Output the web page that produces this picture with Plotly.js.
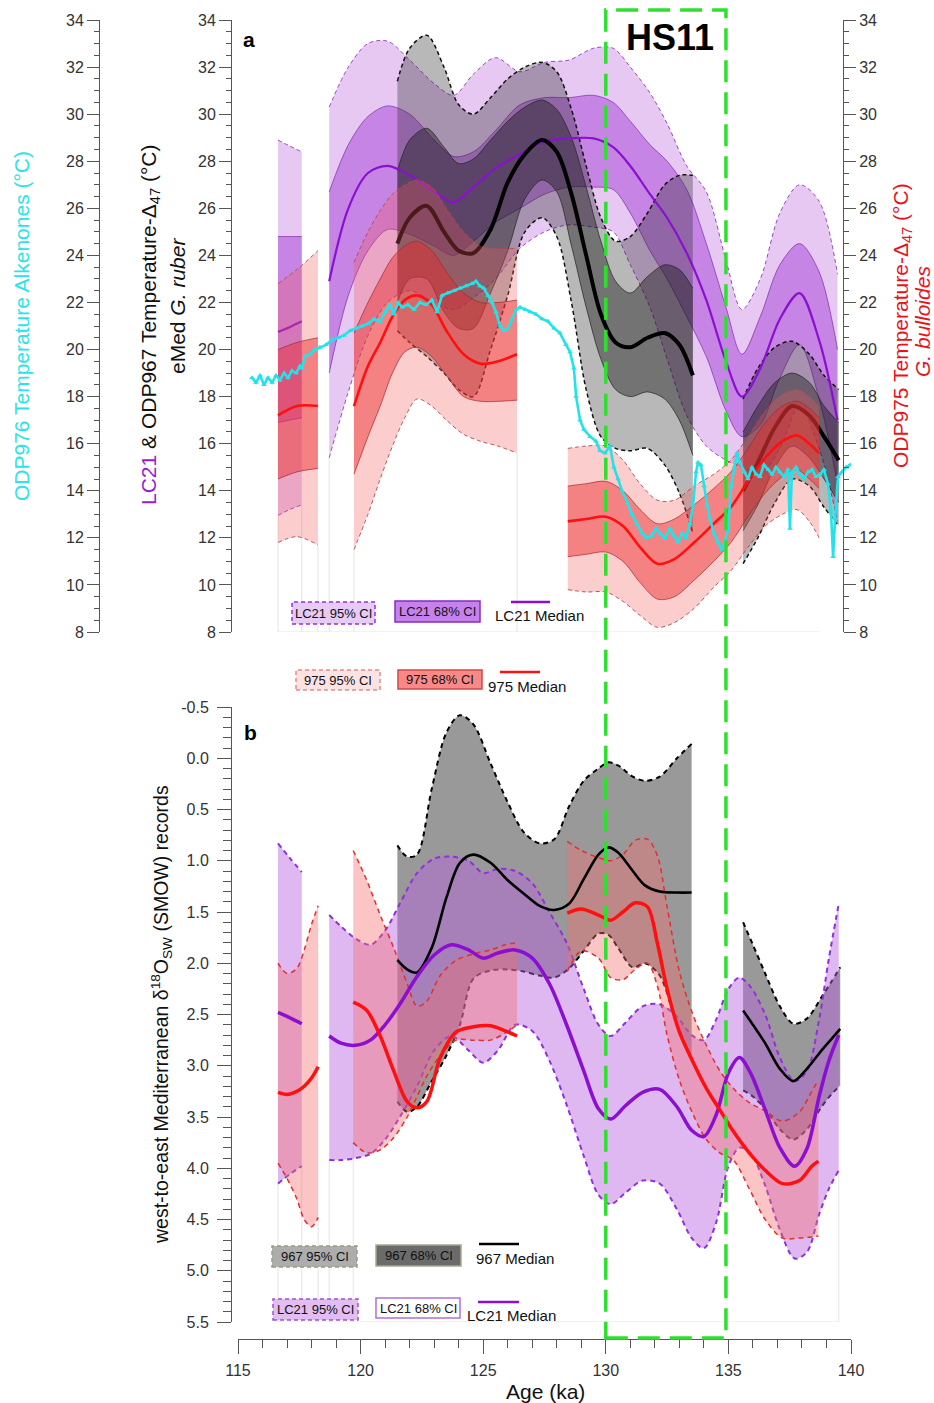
<!DOCTYPE html>
<html><head><meta charset="utf-8">
<script src="https://cdn.plot.ly/plotly-3.0.1.min.js"></script>
<style>html,body{margin:0;padding:0;background:#fff;}#chart{width:934px;height:1403px;}</style>
</head><body><div id="chart"></div>
<script>
// ================= PANEL a : temperature (°C) =================
// LC21 (eMed G. ruber) – segment A
const lcA_age = [116.63, 117.1, 117.6];
const lcA_med = [20.75, 20.95, 21.2];
const lcA_u68 = [24.8, 24.8, 24.8];
const lcA_l68 = [16.9, 17.0, 17.1];
const lcA_u95 = [28.9, 28.65, 28.4];
const lcA_l95 = [12.95, 13.2, 13.4];
// LC21 – segment B
const lcB_age = [118.72,119.5,120.3,121.1,122.0,123.0,123.8,124.6,125.5,126.5,127.5,128.5,129.5,130.3,131.0,131.8,132.5,133.3,134.1,134.9,135.55,136.3,137.1,137.9,138.7,139.45];
const lcB_med = [22.9,26.0,27.5,27.8,27.4,26.7,26.25,26.9,27.7,28.3,28.85,28.97,28.97,28.6,27.8,26.6,25.6,24.1,22.1,19.5,18.0,19.2,21.3,22.4,20.4,17.0];
const lcB_u68 = [26.7,28.7,29.9,30.35,30.0,28.9,28.2,28.4,29.3,30.4,30.7,30.7,30.8,30.5,29.7,28.7,28.0,26.8,24.5,21.8,19.8,21.4,23.6,24.5,23.3,20.0];
const lcB_l68 = [19.0,22.3,24.2,25.1,24.9,24.4,24.0,24.6,25.4,26.0,26.6,26.9,26.9,26.8,25.8,24.2,23.0,21.4,19.7,17.4,16.3,16.8,18.8,20.2,17.9,14.3];
const lcB_u95 = [30.3,32.0,33.0,33.1,32.3,31.3,30.8,31.7,32.4,31.8,32.2,32.3,32.8,32.8,32.0,30.9,29.6,27.8,26.7,23.8,21.7,23.0,25.8,27.0,26.3,23.2];
const lcB_l95 = [15.4,18.2,20.6,22.0,22.5,22.0,21.7,22.2,23.0,24.3,25.0,25.3,25.2,25.0,23.6,21.8,19.6,17.2,15.9,15.3,15.0,14.7,15.8,17.6,15.8,12.7];

// ODP967 – segment 1
const g1_age = [121.5,122.0,122.7,123.4,124.0,124.6,125.3,126.0,126.7,127.4,128.0,128.6,129.2,129.8,130.4,131.0,131.7,132.4,133.0,133.55];
const g1_med = [24.5,25.6,26.1,25.0,24.2,24.1,25.1,27.1,28.3,28.9,28.4,26.6,24.0,21.5,20.3,20.1,20.5,20.7,20.2,18.9];
const g1_u95 = [31.4,32.8,33.35,32.0,30.4,30.0,30.7,31.5,32.0,32.2,31.8,30.2,27.8,25.6,24.6,24.8,25.8,27.0,27.4,27.4];
const g1_l95 = [20.8,20.3,19.7,19.0,18.3,18.0,20.0,22.3,25.0,25.6,24.8,22.0,18.3,16.3,15.8,15.7,15.8,15.1,13.9,12.2];
const g1_u68 = [27.6,28.9,29.4,28.6,27.9,28.1,28.9,29.7,30.3,30.6,30.2,29.0,26.9,24.6,22.9,22.4,23.1,23.6,23.4,22.6];
const g1_l68 = [22.0,23.0,23.0,21.6,20.9,20.9,22.4,24.2,26.4,27.2,26.7,24.4,21.8,19.6,18.3,18.0,18.2,17.9,17.0,15.5];
// ODP967 – segment 2
const g2_age = [135.6,136.2,136.9,137.6,138.3,138.9,139.5];
const g2_med = [14.0,15.2,16.7,17.6,17.2,16.3,15.3];
const g2_u95 = [17.9,19.2,20.1,20.35,19.8,18.9,18.3];
const g2_l95 = [10.9,12.0,13.5,14.5,14.2,13.3,12.5];
const g2_u68 = [16.5,17.6,18.6,19.0,18.6,17.6,16.9];
const g2_l68 = [12.3,13.4,15.0,15.9,15.4,14.5,13.5];

// ODP975 (G. bulloides) – three segments
const r1_age = [116.63,117.4,118.26];
const r1_med = [17.2,17.6,17.6];
const r1_u68 = [20.0,20.3,20.5];
const r1_l68 = [14.5,14.8,14.95];
const r1_u95 = [22.8,23.4,24.2];
const r1_l95 = [11.8,12.05,11.7];
const r2_age = [119.73,120.3,120.8,121.3,121.8,122.3,122.9,123.5,124.2,124.9,125.6,126.38];
const r2_med = [17.6,19.3,20.3,21.4,22.1,22.3,21.9,20.8,19.8,19.4,19.5,19.8];
const r2_u68 = [20.7,22.0,23.0,23.9,24.4,24.6,24.2,23.3,22.4,22.0,22.0,22.1];
const r2_l68 = [14.7,16.3,17.6,19.0,19.9,20.1,19.7,18.9,18.0,17.8,17.8,17.85];
const r2_u95 = [23.7,25.0,25.9,26.6,27.0,27.2,26.9,26.0,25.0,24.4,24.3,24.3];
const r2_l95 = [11.5,13.0,14.5,15.9,17.1,17.9,17.6,17.0,16.4,16.1,15.9,15.6];
const r3_age = [128.45,129.2,130.0,130.7,131.4,132.1,132.8,133.6,134.4,135.1,135.8,136.5,137.2,137.8,138.3,138.7];
const r3_med = [12.7,12.8,12.9,12.5,11.6,10.9,11.1,11.8,12.6,13.3,14.4,15.4,16.1,16.35,16.0,15.6];
const r3_u68 = [14.2,14.3,14.4,14.0,13.2,12.6,12.8,13.4,14.1,14.8,15.8,16.9,17.6,17.8,17.5,17.1];
const r3_l68 = [11.2,11.3,11.4,11.0,10.1,9.4,9.5,10.2,11.0,11.8,12.9,13.9,14.6,14.9,14.5,14.1];
const r3_u95 = [15.8,15.9,15.9,15.3,14.3,13.6,13.6,14.2,14.7,15.3,16.3,17.4,18.1,18.3,18.0,17.6];
const r3_l95 = [9.8,9.7,9.7,9.3,8.7,8.2,8.4,9.0,9.9,10.6,11.6,12.5,13.0,13.2,12.7,12.0];

// ODP976 alkenone temperature
const cy_age = [115.57,115.73,115.90,116.06,116.22,116.39,116.55,116.71,116.88,117.04,117.20,117.37,117.53,117.61,117.73,117.94,118.14,118.34,118.59,118.83,119.08,119.32,119.57,119.81,120.06,120.30,120.55,120.79,121.00,121.20,121.36,121.53,121.69,121.93,122.18,122.42,122.67,122.91,123.12,123.32,123.56,123.81,124.05,124.30,124.54,124.71,124.87,125.03,125.20,125.36,125.52,125.69,125.85,126.01,126.18,126.34,126.50,126.71,126.91,127.15,127.40,127.64,127.89,128.13,128.38,128.54,128.70,128.79,128.95,129.11,129.36,129.60,129.76,129.97,130.17,130.33,130.50,130.66,130.87,131.07,131.27,131.48,131.68,131.88,132.05,132.21,132.41,132.62,132.78,132.95,133.11,133.27,133.43,133.56,133.68,133.76,133.88,134.01,134.13,134.25,134.41,134.58,134.74,134.86,134.98,135.11,135.23,135.35,135.47,135.64,135.80,135.96,136.13,136.29,136.45,136.62,136.78,136.94,137.10,137.27,137.43,137.51,137.59,137.76,137.92,138.08,138.25,138.41,138.57,138.74,138.90,139.06,139.18,139.27,139.35,139.47,139.63,139.80,139.96];
const cy_T = [18.8,18.6,18.9,18.5,18.8,18.6,18.9,18.7,19.0,18.8,19.1,19.0,19.3,19.2,19.7,19.8,20.0,20.1,20.2,20.4,20.5,20.6,20.8,20.9,21.0,21.1,21.3,21.2,21.6,21.9,21.5,22.0,21.8,21.9,21.7,22.0,21.9,22.1,21.6,22.3,22.4,22.5,22.6,22.7,22.8,22.9,22.7,22.6,22.3,22.0,21.6,21.0,20.8,20.9,21.3,21.7,21.8,21.7,21.6,21.5,21.3,21.2,20.9,20.7,20.2,19.9,19.2,18.0,17.0,16.6,16.3,16.1,15.7,15.6,15.9,15.0,14.5,14.0,13.5,13.0,12.6,12.2,12.0,12.1,12.4,12.2,12.0,12.4,12.1,11.8,12.2,12.0,12.6,13.4,14.8,15.2,15.1,14.2,13.4,12.8,12.2,11.8,11.5,11.9,12.3,14.2,15.0,15.6,15.2,14.8,14.5,15.0,14.7,14.6,15.1,14.9,14.7,15.0,14.8,14.6,14.9,12.4,14.8,15.0,14.7,14.5,14.8,14.9,14.6,14.7,14.9,14.3,13.2,11.2,12.8,14.6,14.8,15.0,15.1];

// ================= PANEL b : d18O seawater (‰ SMOW) =================
const lbA_age = [116.63,117.1,117.6];
const lbA_med = [2.48,2.53,2.59];
const lbA_top = [0.83,0.97,1.11];
const lbA_bot = [4.15,4.06,3.98];
const lbB_age = [118.72,119.2,119.8,120.4,121.0,121.6,122.3,123.0,123.7,124.4,125.0,125.6,126.3,127.0,127.7,128.4,129.1,129.7,130.2,130.8,131.5,132.2,132.9,133.5,134.0,134.5,135.0,135.45,135.9,136.5,137.1,137.7,138.2,138.7,139.1,139.5];
const lbB_med = [2.71,2.78,2.80,2.75,2.6,2.4,2.13,1.92,1.82,1.87,1.95,1.9,1.87,1.95,2.2,2.6,3.05,3.42,3.52,3.39,3.26,3.23,3.4,3.63,3.69,3.48,3.07,2.92,3.07,3.43,3.8,3.98,3.81,3.3,2.95,2.7];
const lbB_top = [1.53,1.64,1.76,1.82,1.68,1.42,1.12,0.98,0.96,1.0,1.12,1.08,1.1,1.22,1.5,1.8,2.25,2.6,2.71,2.58,2.42,2.4,2.52,2.7,2.75,2.55,2.25,2.14,2.23,2.5,2.92,3.15,3.05,2.55,1.95,1.42];
const lbB_bot = [3.92,3.92,3.9,3.86,3.72,3.5,3.2,2.85,2.71,2.85,2.97,2.85,2.6,2.66,2.95,3.38,3.88,4.26,4.35,4.24,4.12,4.15,4.4,4.68,4.78,4.53,3.98,3.8,3.85,4.17,4.6,4.88,4.82,4.45,4.2,4.02];

const rb1_age = [116.63,117.0,117.4,117.7,118.0,118.27];
const rb1_med = [3.26,3.28,3.25,3.2,3.12,3.01];
const rb1_top = [2.0,2.1,2.05,1.87,1.62,1.44];
const rb1_bot = [3.95,4.1,4.3,4.5,4.57,4.48];
const rb2_age = [119.7,120.25,120.8,121.35,121.9,122.3,122.7,123.25,123.9,124.6,125.3,125.9,126.38];
const rb2_med = [2.38,2.46,2.71,3.05,3.35,3.41,3.35,2.92,2.67,2.62,2.61,2.66,2.71];
const rb2_top = [0.9,1.19,1.53,1.85,2.2,2.42,2.37,2.12,1.97,1.91,1.87,1.82,1.8];
const rb2_bot = [3.75,3.85,3.82,3.7,3.5,3.3,3.1,2.9,2.75,2.75,2.75,2.68,2.6];
const rb3_age = [128.43,129.0,129.7,130.2,130.7,131.2,131.7,132.1,132.5,133.0,133.55,134.1,134.65,135.2,135.85,136.5,137.2,137.9,138.4,138.67];
const rb3_med = [1.51,1.47,1.53,1.58,1.5,1.41,1.45,1.8,2.25,2.67,2.96,3.22,3.43,3.64,3.85,4.02,4.15,4.12,3.98,3.93];
const rb3_top = [0.81,0.9,0.97,1.0,0.94,0.8,0.79,0.95,1.45,2.08,2.5,2.8,3.05,3.22,3.36,3.44,3.54,3.45,3.25,3.14];
const rb3_bot = [2.08,1.88,1.95,2.14,2.16,2.06,2.0,2.22,2.7,3.14,3.47,3.72,3.85,3.92,4.2,4.5,4.68,4.68,4.67,4.66];

const gb1_age = [121.5,121.9,122.3,122.9,123.5,124.05,124.6,125.3,126.0,126.65,127.3,127.9,128.5,129.1,129.7,130.1,130.5,131.1,131.6,132.2,132.9,133.5];
const gb1_med = [1.97,2.06,2.09,1.85,1.36,1.02,0.94,1.02,1.19,1.32,1.44,1.48,1.42,1.18,0.94,0.87,0.92,1.1,1.24,1.3,1.31,1.31];
const gb1_top = [0.85,0.96,0.94,0.3,-0.25,-0.42,-0.33,0.05,0.43,0.72,0.83,0.79,0.47,0.22,0.1,0.04,0.07,0.18,0.22,0.18,0.0,-0.14];
const gb1_bot = [3.35,3.45,3.4,3.15,2.9,2.6,2.15,2.07,2.06,2.08,2.12,2.14,2.05,1.88,1.71,1.72,1.85,2.04,2.0,2.12,2.6,2.92];
const gb2_age = [135.6,136.0,136.5,137.1,137.65,138.2,138.8,139.2,139.56];
const gb2_med = [2.46,2.6,2.78,3.03,3.15,3.03,2.85,2.74,2.64];
const gb2_top = [1.6,1.82,2.1,2.42,2.59,2.54,2.33,2.18,2.04];
const gb2_bot = [3.24,3.3,3.42,3.62,3.72,3.62,3.4,3.28,3.19];

// tick labels
const bTickVals = [-0.5,0,0.5,1,1.5,2,2.5,3,3.5,4,4.5,5,5.5];
const bTickText = ['-0.5','0.0','0.5','1.0','1.5','2.0','2.5','3.0','3.5','4.0','4.5','5.0','5.5'];
const ageTickVals = [115,120,125,130,135,140];

// ================= drawing =================
const W = 934, H = 1403;
const px = x => x / W;
const py = y => 1 - y / H;
const FONT = 'Arial, "Liberation Sans", sans-serif';

function line(xs, ys, ya, color, width, dash) {
  return {type:'scatter', mode:'lines', x:xs, y:ys, xaxis:'x', yaxis:ya, hoverinfo:'skip', showlegend:false,
          line:{color:color, width:width, dash:dash||'solid', shape:'spline', smoothing:0.9}};
}
function band(xs, lo, hi, ya, fillcolor, lc, lw, dash) {
  const a = line(xs, lo, ya, lc, lw, dash);
  const b = line(xs, hi, ya, lc, lw, dash);
  b.fill = 'tonexty'; b.fillcolor = fillcolor;
  return [a, b];
}

const P95 = 'rgba(172,72,215,0.30)', P68 = 'rgba(160,50,210,0.45)';
const G95 = 'rgba(40,40,40,0.33)', G68 = 'rgba(20,20,20,0.42)';
const R95 = 'rgba(245,90,90,0.30)', R68 = 'rgba(235,40,40,0.45)';
const D95 = '4px,3px';

let traces = [];
// panel a – LC21 + 967 on y
traces.push(...band(lcA_age, lcA_l95, lcA_u95, 'y', P95, '#8E35C0', 0.9, D95));
traces.push(...band(lcB_age, lcB_l95, lcB_u95, 'y', P95, '#8E35C0', 0.9, D95));
traces.push(...band(lcA_age, lcA_l68, lcA_u68, 'y', P68, '#7B2AA8', 0.7));
traces.push(...band(lcB_age, lcB_l68, lcB_u68, 'y', P68, '#7B2AA8', 0.7));
traces.push(...band(g1_age, g1_l95, g1_u95, 'y', G95, '#111', 1.5, D95));
traces.push(...band(g2_age, g2_l95, g2_u95, 'y', G95, '#111', 1.5, D95));
traces.push(...band(g1_age, g1_l68, g1_u68, 'y', G68, '#222', 0.7));
traces.push(...band(g2_age, g2_l68, g2_u68, 'y', G68, '#222', 0.7));
traces.push(line(lcA_age, lcA_med, 'y', '#8A0FD0', 2.2));
traces.push(line(lcB_age, lcB_med, 'y', '#8A0FD0', 2.2));
traces.push(line(g1_age, g1_med, 'y', '#000', 4));
traces.push(line(g2_age, g2_med, 'y', '#000', 4));
// panel a – ODP975 on y2 (right axis)
traces.push(...band(r1_age, r1_l95, r1_u95, 'y2', R95, '#B04848', 0.9, D95));
traces.push(...band(r2_age, r2_l95, r2_u95, 'y2', R95, '#B04848', 0.9, D95));
traces.push(...band(r3_age, r3_l95, r3_u95, 'y2', R95, '#B04848', 0.9, D95));
traces.push(...band(r1_age, r1_l68, r1_u68, 'y2', R68, '#A02828', 0.7));
traces.push(...band(r2_age, r2_l68, r2_u68, 'y2', R68, '#A02828', 0.7));
traces.push(...band(r3_age, r3_l68, r3_u68, 'y2', R68, '#A02828', 0.7));
traces.push(line(r1_age, r1_med, 'y2', '#FF1010', 2.6));
traces.push(line(r2_age, r2_med, 'y2', '#FF1010', 2.6));
traces.push(line(r3_age, r3_med, 'y2', '#FF1010', 2.6));
// panel a – ODP976 alkenones on y3 (outer left axis)
traces.push({type:'scatter', mode:'lines+markers', x:cy_age, y:cy_T, xaxis:'x', yaxis:'y3', hoverinfo:'skip', showlegend:false,
  line:{color:'#22E3EA', width:2.6}, marker:{symbol:'triangle-up', size:5, color:'#22E3EA'}});

// panel b on y4
const LB = 'rgba(185,95,225,0.45)', GB = 'rgba(90,90,90,0.62)', RB = 'rgba(245,110,110,0.40)';
traces.push(...band(gb1_age, gb1_bot, gb1_top, 'y4', GB, '#000', 2, '5px,4px'));
traces.push(...band(gb2_age, gb2_bot, gb2_top, 'y4', GB, '#000', 2, '5px,4px'));
traces.push(...band(lbA_age, lbA_bot, lbA_top, 'y4', LB, '#9030D8', 2, '5px,4px'));
traces.push(...band(lbB_age, lbB_bot, lbB_top, 'y4', LB, '#9030D8', 2, '5px,4px'));
traces.push(...band(rb1_age, rb1_bot, rb1_top, 'y4', RB, '#E03030', 1.5, '5px,4px'));
traces.push(...band(rb2_age, rb2_bot, rb2_top, 'y4', RB, '#E03030', 1.5, '5px,4px'));
traces.push(...band(rb3_age, rb3_bot, rb3_top, 'y4', RB, '#E03030', 1.5, '5px,4px'));
traces.push(line(gb1_age, gb1_med, 'y4', '#000', 2.6));
traces.push(line(gb2_age, gb2_med, 'y4', '#000', 2.6));
traces.push(line(lbA_age, lbA_med, 'y4', '#8A0FD0', 3.5));
traces.push(line(lbB_age, lbB_med, 'y4', '#8A0FD0', 3.5));
traces.push(line(rb1_age, rb1_med, 'y4', '#FF1010', 3.5));
traces.push(line(rb2_age, rb2_med, 'y4', '#FF1010', 3.5));
traces.push(line(rb3_age, rb3_med, 'y4', '#FF1010', 3.5));

const AX = '#555', TK = {size:16, color:'#333', family:FONT};
function yAx(extra) {
  return Object.assign({range:[8,34], dtick:2, tick0:8, ticks:'outside', ticklen:12, tickwidth:1, tickcolor:AX,
    showline:true, linecolor:AX, linewidth:1, showgrid:false, zeroline:false, tickfont:TK, anchor:'free',
    minor:{ticks:'outside', ticklen:5, dtick:0.5, tick0:8, tickcolor:AX, showgrid:false}}, extra);
}

const shapes = [], annotations = [];
// faint guide lines at record ends (as in the original graphic)
const FAINT = {color:'#E4E4E4', width:1};
function vFaint(a, y0, y1, yr) { shapes.push({type:'line', xref:'x', yref:yr, x0:a, x1:a, y0:y0, y1:y1, line:FAINT, layer:'below'}); }
[[lcA_age[0], lcA_l95[0]], [lcA_age[2], lcA_l95[2]], [r1_age[2], r1_l95[2]], [lcB_age[0], lcB_l95[0]], [r2_age[0], r2_l95[0]], [r2_age[r2_age.length-1], r2_l95[r2_l95.length-1]]]
  .forEach(p => vFaint(p[0], 8, p[1], 'y'));
shapes.push({type:'line', xref:'x', yref:'y', x0:lcA_age[0], x1:r3_age[r3_age.length-1], y0:8, y1:8, line:FAINT, layer:'below'});
[[lbA_age[0], lbA_bot[0]], [lbA_age[2], lbA_bot[2]], [rb1_age[5], rb1_bot[5]], [lbB_age[0], lbB_bot[0]], [rb2_age[0], rb2_bot[0]], [lbB_age[lbB_age.length-1], lbB_bot[lbB_bot.length-1]]]
  .forEach(p => vFaint(p[0], 5.5, p[1], 'y4'));
shapes.push({type:'line', xref:'x', yref:'y4', x0:lbA_age[0], x1:lbB_age[lbB_age.length-1], y0:5.5, y1:5.5, line:FAINT, layer:'below'});

// HS11 box
shapes.push({type:'rect', xref:'x', yref:'paper', x0:130.0, x1:134.9, y0:py(1338), y1:py(10),
  line:{color:'#2EE02E', width:3.5, dash:'22px,10px'}, fillcolor:'rgba(0,0,0,0)', layer:'above'});

function legBox(x0, y0, x1, y1, fill, lc, dash, label, tcol) {
  shapes.push({type:'rect', xref:'paper', yref:'paper', x0:px(x0), x1:px(x1), y0:py(y1), y1:py(y0),
    fillcolor:fill, line:{color:lc, width:1.5, dash:dash?'4px,3px':'solid'}, layer:'above'});
  annotations.push({xref:'paper', yref:'paper', x:px((x0+x1)/2), y:py((y0+y1)/2), text:label, showarrow:false,
    font:{size:13, color:tcol||'#111', family:FONT}, xanchor:'center', yanchor:'middle'});
}
function legLine(x0, x1, y, col, tx, ty, label) {
  shapes.push({type:'line', xref:'paper', yref:'paper', x0:px(x0), x1:px(x1), y0:py(y), y1:py(y),
    line:{color:col, width:2.5}, layer:'above'});
  annotations.push({xref:'paper', yref:'paper', x:px(tx), y:py(ty), text:label, showarrow:false,
    font:{size:15, color:'#111', family:FONT}, xanchor:'center', yanchor:'middle'});
}
legBox(292, 602, 375, 624, '#E6CBF4', '#9B30D9', true, 'LC21 95% CI');
legBox(395, 601, 480, 622, '#C682EC', '#8A2BC0', false, 'LC21 68% CI');
legLine(511, 550, 602, '#8A0FD0', 539, 615, 'LC21 Median');
legBox(296, 670, 380, 690, '#FDE2E2', '#E58A8A', true, '975 95% CI');
legBox(398, 670, 482, 689, '#F98888', '#D04848', false, '975 68% CI');
legLine(500, 540, 672, '#FF1010', 527, 686, '975 Median');
legBox(272, 1246, 357, 1267, '#ADADAD', '#9A9A80', true, '967 95% CI');
legBox(376, 1245, 461, 1266, '#6B6B6B', '#A8A890', false, '967 68% CI');
legLine(479, 519, 1244, '#000', 515, 1258, '967 Median');
legBox(273, 1299, 358, 1320, '#E2BDF2', '#A050D0', true, 'LC21 95% CI');
legBox(376, 1298, 460, 1318, '#FFFFFF', '#B070D8', false, 'LC21 68% CI');
legLine(478, 519, 1302, '#8A0FD0', 511, 1315, 'LC21 Median');

function ann(x, y, text, size, color, angle, extra) {
  annotations.push(Object.assign({xref:'paper', yref:'paper', x:px(x), y:py(y), text:text, showarrow:false,
    textangle:angle||0, xanchor:'center', yanchor:'middle', font:{size:size, color:color, family:FONT}}, extra||{}));
}
ann(22, 326, 'ODP976 Temperature Alkenones (°C)', 21, '#2BE3E8', -90);
ann(150, 325, '<span style="color:#9A1BD6">LC21</span> & ODP967 Temperature-Δ<sub>47</sub> (°C)', 21, '#111', -90);
ann(178, 306, 'eMed <i>G. ruber</i>', 21, '#111', -90);
ann(902, 326, 'ODP975 Temperature-Δ<sub>47</sub> (°C)', 21, '#E8141B', -90);
ann(922, 322, '<i>G. bulloides</i>', 21, '#E8141B', -90);
ann(161, 1015, 'west-to-east Mediterranean δ<sup>18</sup>O<sub>SW</sub> (SMOW) records', 19.5, '#111', -90);
ann(249, 40, '<b>a</b>', 21, '#000');
ann(251, 732, '<b>b</b>', 21, '#000');
ann(670, 38, '<b>HS11</b>', 36, '#000');
ann(545, 1391, 'Age (ka)', 21, '#111');

const layout = {
  width:W, height:H, margin:{l:0, r:0, t:0, b:0}, paper_bgcolor:'#fff', plot_bgcolor:'rgba(0,0,0,0)',
  showlegend:false, hovermode:false, font:{family:FONT},
  xaxis:{domain:[px(238), px(851)], range:[115,140], anchor:'free', position:py(1339),
    tickvals:ageTickVals, ticks:'outside', ticklen:14, tickwidth:1, tickcolor:AX, showline:true, linecolor:AX,
    showgrid:false, zeroline:false, tickfont:TK, ticklabelstandoff:3,
    minor:{ticks:'outside', ticklen:8, dtick:1, tick0:115, tickcolor:AX, showgrid:false}},
  yaxis: yAx({domain:[py(632), py(20)], position:px(231)}),
  yaxis2: yAx({overlaying:'y', side:'right', position:px(843)}),
  yaxis3: yAx({overlaying:'y', side:'left', position:px(99)}),
  yaxis4: {domain:[py(1322), py(707)], range:[5.5,-0.5], anchor:'free', position:px(231),
    tickvals:bTickVals, ticktext:bTickText, ticks:'outside', ticklen:14, tickwidth:1, tickcolor:AX,
    showline:true, linecolor:AX, showgrid:false, zeroline:false, tickfont:TK, ticklabelstandoff:5,
    minor:{ticks:'outside', ticklen:8, dtick:0.1, tick0:-0.5, tickcolor:AX, showgrid:false}},
  shapes:shapes, annotations:annotations
};
Plotly.newPlot('chart', traces, layout, {staticPlot:true, displayModeBar:false});
</script></body></html>
